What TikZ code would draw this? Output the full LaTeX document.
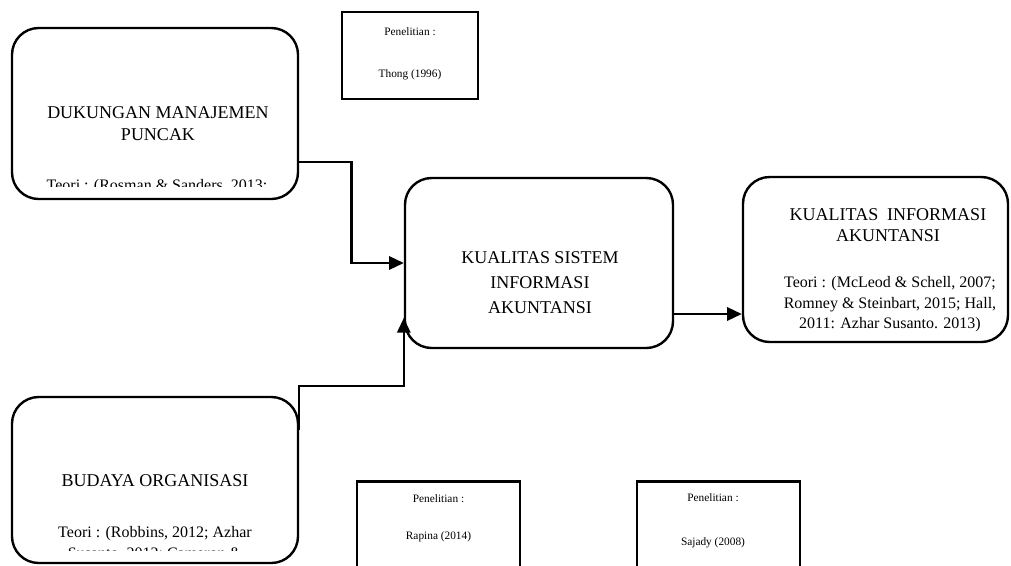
\documentclass[tikz,border=0pt]{standalone}
\usepackage{fontspec}
\setmainfont{Liberation Serif}
\usetikzlibrary{arrows.meta,positioning,calc}

\begin{document}
\begin{tikzpicture}[
  x=0.75pt, y=-0.75pt,
  blok/.style={draw,line width=1.8pt,rounded corners=20pt,inner sep=0pt},
  pbox/.style={draw,line width=2pt,inner sep=0pt},
  judul/.style={align=center,inner sep=0pt,font=\fontsize{13.5}{17}\selectfont},
  teori/.style={align=center,inner sep=0pt,font=\fontsize{12}{15.5}\selectfont},
  ptext/.style={align=center,inner sep=0pt,font=\fontsize{8.5}{10}\selectfont},
  panah/.style={-{Triangle[length=11pt,width=10pt]},line width=1.6pt}
]
\path[clip,use as bounding box] (0,0) rectangle (1011,565);

% kotak variabel
\node[blok,minimum width=214.5pt,minimum height=128.25pt] (dmp) at (155,113.5) {};
\node[blok,minimum width=214.5pt,minimum height=124.5pt] (bo) at (155,480) {};
\node[blok,minimum width=201pt,minimum height=127.5pt] (ksia) at (539,263) {};
\node[blok,minimum width=198.75pt,minimum height=123.75pt] (kia) at (875.5,259.5) {};

% kotak penelitian
\node[pbox,minimum width=102pt,minimum height=65.25pt] (thong) at (410,55.5) {};
\node[pbox,minimum width=122.25pt,minimum height=90pt,anchor=north] (rapina) at (438.5,480) {};
\node[pbox,minimum width=122.25pt,minimum height=90pt,anchor=north] (sajady) at (718.5,480) {};

% teks
\node[judul] (dmpjudul) at (158,123.5) {DUKUNGAN MANAJEMEN\\PUNCAK};
\begin{scope}
  \clip (dmp.north west) rectangle (298,186);
  \node[teori,anchor=base] (dmpteori) at (157,190.5) {Teori : (Rosman \& Sanders, 2013;};
\end{scope}

\node[judul] (bojudul) at (155,481) {BUDAYA ORGANISASI};
\begin{scope}
  \clip (bo.north west) rectangle (298,550);
  \node[teori,anchor=north] (boteori) at (155,526) {Teori : (Robbins, 2012; Azhar\\Susanto, 2012; Cameron \&};
\end{scope}

\node[judul,font=\fontsize{13.5}{18.75}\selectfont] (ksiajudul) at (540,283) {KUALITAS SISTEM\\INFORMASI\\AKUNTANSI};

\node[judul,font=\fontsize{13.5}{15.75}\selectfont] (kiajudul) at (888,225.5) {KUALITAS\ \ INFORMASI\\AKUNTANSI};
\node[teori,font=\fontsize{12}{15.4}\selectfont] (kiateori) at (890,304.5) {Teori : (McLeod \& Schell, 2007;\\Romney \& Steinbart, 2015; Hall,\\2011: Azhar Susanto. 2013)};

\node[ptext] (thongtxt) at (410,54) {Penelitian :\\[21.5pt]Thong (1996)};
\node[ptext] (rapinatxt) at (438.5,518) {Penelitian :\\[17.75pt]Rapina (2014)};
\node[ptext] (sajadytxt) at (713,521) {Penelitian :\\[23pt]Sajady (2008)};

% panah
\draw[panah] ([yshift=-36.4pt]dmp.east) -| ($(dmp.east |- ksia.west)!.5!(ksia.west)$) -- (ksia.west);
\draw[panah] ([yshift=37.5pt]bo.east) |- ([yshift=-92.25pt]ksia.west) -- ([yshift=-41.25pt]ksia.west);
\draw[panah] ([yshift=-38.25pt]ksia.east) -- ([yshift=-38.25pt]ksia.east -| kia.west);
\end{tikzpicture}
\end{document}
